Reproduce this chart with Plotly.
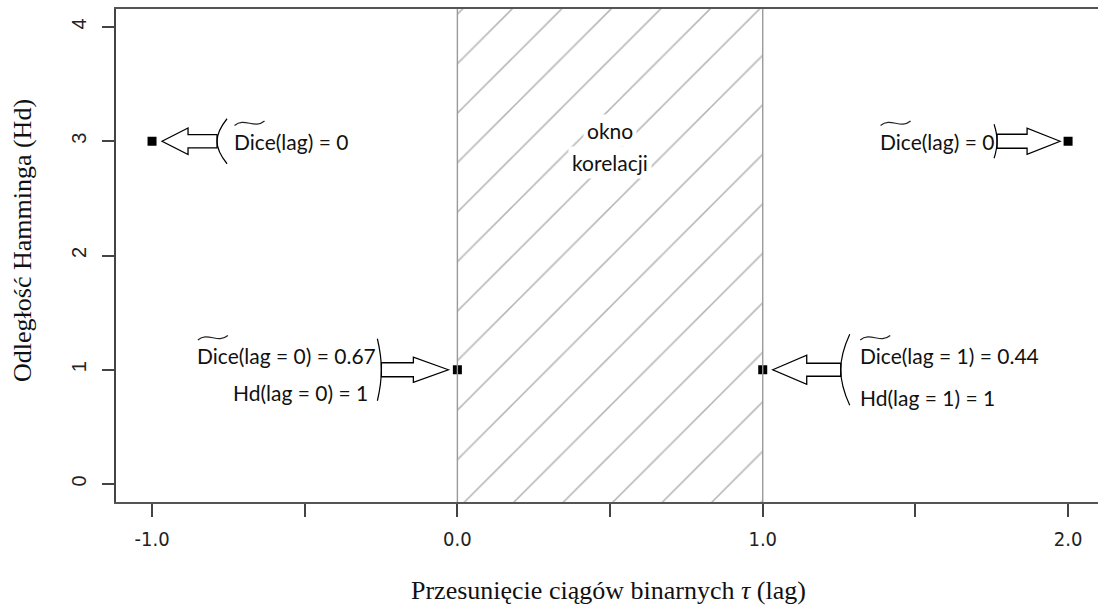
import plotly.graph_objects as go

# ---------------- data ----------------
lags = [-1, 0, 1, 2]
hamming = [3, 1, 1, 3]
dice_labels = ["Dice(lag) = 0", "Dice(lag = 0) = 0.67", "Dice(lag = 1) = 0.44", "Dice(lag) = 0"]
hd_labels = ["", "Hd(lag = 0) = 1", "Hd(lag = 1) = 1", ""]
window_x = [0, 1]
window_label = ["okno", "korelacji"]
x_tick_vals = [-1.0, -0.5, 0.0, 0.5, 1.0, 1.5, 2.0]
x_tick_text = ["-1.0", "", "0.0", "", "1.0", "", "2.0"]
y_tick_vals = [0, 1, 2, 3, 4]
y_tick_text = ["0", "1", "2", "3", "4"]
x_title = "Przesunięcie ciągów binarnych <i>τ</i> (lag)"
y_title = "Odległość Hamminga (Hd)"

# ---------------- layout constants ----------------
W, H = 1098, 607
ML, MR, MT, MB = 116, 0, 9, 105
PW, PH = W - ML - MR, H - MT - MB
X_RANGE = [-1.118, 2.098]
Y_RANGE = [-0.1575, 4.1575]
SX = (X_RANGE[1] - X_RANGE[0]) / PW   # data units per pixel
SY = (Y_RANGE[1] - Y_RANGE[0]) / PH

TXT_FONT = dict(family="Lato, Open Sans, sans-serif", size=21, color="#111111")

# per-point annotation geometry (pixels): side of arrow (+1 right of point, -1 left)
side = [1, -1, 1, -1]
tip_gap = [10, 9, 10, 8]
head_at = [36, 44, 44, 41]
end_at = [65, 76, 78, 71]
head_half = [13.3, 12.5, 14.5, 13]
shaft_half = [6.7, 7, 6.5, 7]
brace_depth = [10, 4, 9, 3]
brace_half = [22.5, 31, 35.5, 17]
dice_dx = [80, -262, 95, -190]
dice_dy = [0, 14, 14, 0]
hd_dx = [0, -87, 95, 0]
hd_dy = [0, -23, -28, 0]
hd_anchor = ["left", "right", "left", "left"]

fig = go.Figure()

ymin, ymax = Y_RANGE
# hatched correlation window
fig.add_trace(go.Scatter(
    x=[window_x[0], window_x[1], window_x[1], window_x[0], window_x[0]],
    y=[ymin, ymin, ymax, ymax, ymin],
    mode="lines", fill="toself", line=dict(width=0),
    fillpattern=dict(shape="/", size=35, solidity=0.045, fgcolor="#6e6e6e", bgcolor="white"),
    hoverinfo="skip", showlegend=False))

# points
fig.add_trace(go.Scatter(
    x=lags, y=hamming, mode="markers",
    marker=dict(symbol="square", size=9, color="black", line=dict(width=0)),
    showlegend=False))

# window boundaries
fig.add_trace(go.Scatter(
    x=[window_x[0], window_x[0], None, window_x[1], window_x[1]],
    y=[ymin, ymax, None, ymin, ymax],
    mode="lines", line=dict(color="#9a9a9a", width=1.4),
    hoverinfo="skip", showlegend=False))

shapes = []
annotations = []
for i, (x0, y0) in enumerate(zip(lags, hamming)):
    s = side[i]

    def P(dx, dy, x0=x0, y0=y0, s=s):
        return f"{x0 + s * dx * SX},{y0 + dy * SY}"

    hh, sh = head_half[i], shaft_half[i]
    t, hd, e = tip_gap[i], head_at[i], end_at[i]
    path = ("M" + P(t, 0) + " L" + P(hd, hh) + " L" + P(hd, sh) + " L" + P(e, sh)
            + " L" + P(e, -sh) + " L" + P(hd, -sh) + " L" + P(hd, -hh) + " Z")
    shapes.append(dict(type="path", path=path, xref="x", yref="y",
                       line=dict(color="black", width=1.3), fillcolor="white", layer="above"))
    bd, bh = brace_depth[i], brace_half[i]
    bpath = ("M" + P(e + bd, bh) + " Q" + P(e, bh * 0.45) + " " + P(e, 0)
             + " Q" + P(e, -bh * 0.45) + " " + P(e + bd, -bh))
    shapes.append(dict(type="path", path=bpath, xref="x", yref="y",
                       line=dict(color="black", width=1.2), layer="above"))

    # Dice label
    annotations.append(dict(x=x0, y=y0, xref="x", yref="y", text=dice_labels[i],
                            showarrow=False, xanchor="left", yanchor="middle",
                            xshift=dice_dx[i], yshift=dice_dy[i], font=TXT_FONT))
    # tilde over "Dice"
    tx0 = x0 + (dice_dx[i] + 2.5) * SX
    tw = 30 * SX
    ty = y0 + (dice_dy[i] + 18) * SY
    a = 2.2 * SY
    tpath = (f"M{tx0},{ty - a} C{tx0 + tw / 3},{ty + 2.8 * a} {tx0 + 2 * tw / 3},{ty - 2.8 * a} "
             f"{tx0 + tw},{ty + a}")
    shapes.append(dict(type="path", path=tpath, xref="x", yref="y",
                       line=dict(color="#222222", width=1.2), layer="above"))
    if hd_labels[i]:
        annotations.append(dict(x=x0, y=y0, xref="x", yref="y", text=hd_labels[i],
                                showarrow=False, xanchor=hd_anchor[i], yanchor="middle",
                                xshift=hd_dx[i], yshift=hd_dy[i], font=TXT_FONT))

# window label
wx = (window_x[0] + window_x[1]) / 2
annotations.append(dict(x=wx, y=3, xref="x", yref="y", text=window_label[0], showarrow=False,
                        yanchor="middle", yshift=11, font=TXT_FONT, bgcolor="white", borderpad=3))
annotations.append(dict(x=wx, y=3, xref="x", yref="y", text=window_label[1], showarrow=False,
                        yanchor="middle", yshift=-21, font=TXT_FONT, bgcolor="white", borderpad=3))

# axis titles
annotations.append(dict(x=(608 - ML) / PW, y=(H - MB - 590) / PH, xref="paper", yref="paper",
                        text=x_title, showarrow=False, xanchor="center", yanchor="middle",
                        font=dict(family="Liberation Serif, Times New Roman, serif", size=26, color="#111111")))
annotations.append(dict(x=(22 - ML) / PW, y=(H - MB - 241) / PH, xref="paper", yref="paper",
                        text=y_title, showarrow=False, xanchor="center", yanchor="middle", textangle=-90,
                        font=dict(family="Liberation Serif, Times New Roman, serif", size=26, color="#111111")))

fig.update_layout(
    width=W, height=H,
    margin=dict(l=ML, r=MR, t=MT, b=MB, autoexpand=False),
    paper_bgcolor="white", plot_bgcolor="white",
    showlegend=False, hovermode=False,
    shapes=shapes, annotations=annotations,
    xaxis=dict(range=X_RANGE, showgrid=False, zeroline=False, showline=True, mirror=True,
               linecolor="#555555", linewidth=2, ticks="outside", ticklen=13, tickwidth=2,
               tickcolor="#444444", tickvals=x_tick_vals, ticktext=x_tick_text,
               ticklabelstandoff=5,
               tickfont=dict(family="DejaVu Sans Condensed, Liberation Sans, Arial",
                             size=20, color="#222222")),
    yaxis=dict(range=Y_RANGE, showgrid=False, zeroline=False, showline=True, mirror=False,
               linecolor="#444444", linewidth=1.5, ticks="outside", ticklen=12, tickwidth=1.5,
               tickcolor="#444444", tickvals=y_tick_vals, ticktext=y_tick_text, tickangle=-90,
               ticklabelstandoff=8,
               tickfont=dict(family="Liberation Sans, Arial", size=20, color="#222222")),
)

fig.write_html("out.html", config={"displayModeBar": False},
               post_script="document.body.style.margin='0px';")
